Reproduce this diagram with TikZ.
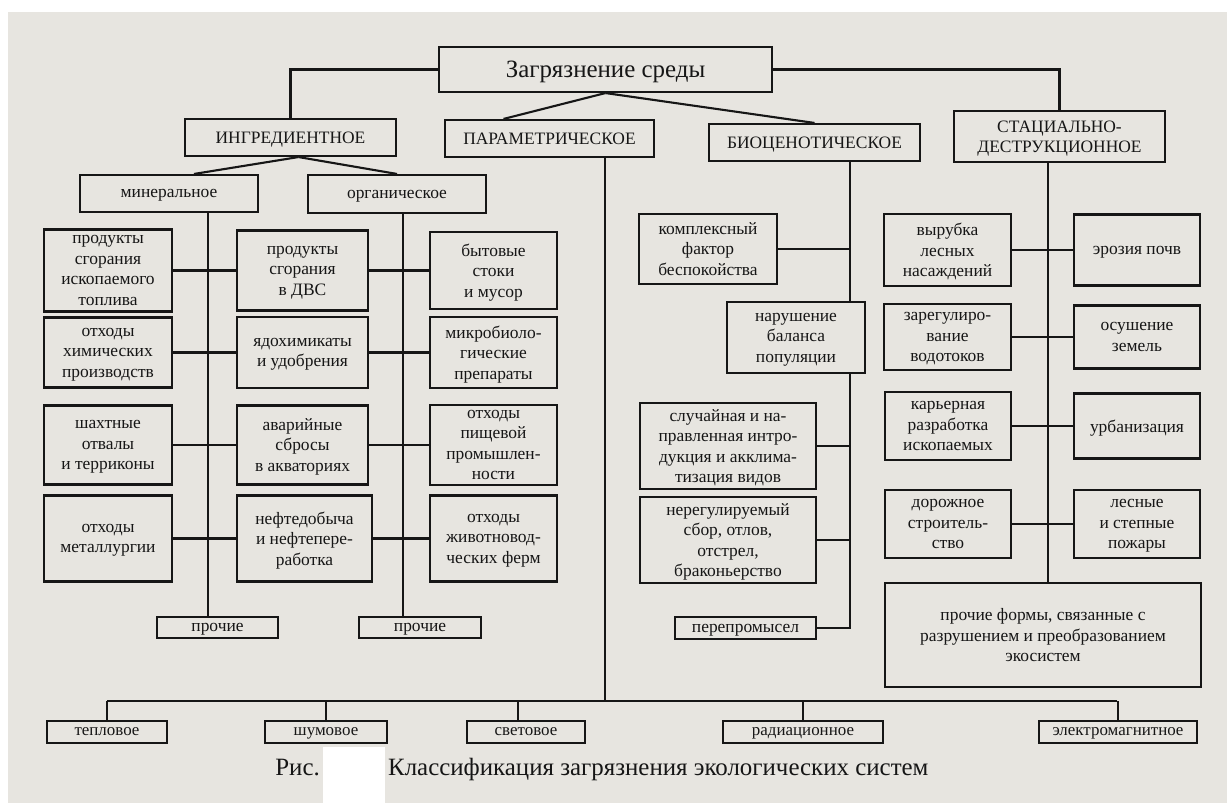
\documentclass[tikz,border=0pt]{standalone}
\usepackage{fontspec}
\setmainfont{Liberation Serif}
\definecolor{paper}{HTML}{E7E5E0}
\definecolor{ink}{HTML}{161616}
\tikzset{box/.style={draw=ink, line width=2.1bp, align=center, inner sep=0pt,
        text=ink, text depth=0pt, font=\fontsize{17.5}{20.5}\selectfont},
    wh/.style 2 args={minimum width=#1bp, minimum height=#2bp},
    link/.style={draw=ink, line width=2.1bp},
    low box/.style={box, font=\fontsize{17}{19}\selectfont},
    }

\begin{document}
\begin{tikzpicture}[x=1bp,y=-1bp]
	\fill[white] (0,0) rectangle (1227,803);
	\fill[paper] (8,12) rectangle (1227,803);
	\useasboundingbox (0,0) rectangle (1227,803);

	\node[box,wh={333}{45},font=\fontsize{25}{28}\selectfont] (pollution) at (605.5,69.5) {Загрязнение среды};
	\node[box,wh={211}{37}] (ingredient) at (290.5,137.5) {ИНГРЕДИЕНТНОЕ};
	\node[box,wh={209}{37}] (parametric) at (549.5,138.5) {ПАРАМЕТРИЧЕСКОЕ};
	\node[box,wh={211}{37}] (biocenotic) at (814.5,142.5) {БИОЦЕНОТИЧЕСКОЕ};
	\node[box,wh={211}{51}] (stational) at (1059.5,136.5) {СТАЦИАЛЬНО-\\ДЕСТРУКЦИОННОЕ};

	\node[box,wh={178}{37}] (mineral) at (169,193.5) {минеральное};
	\node[box,wh={178}{38}] (organic) at (397,194) {органическое};

	% ingredient: three columns
	\node[box,wh={128}{82}] (fossilFuel) at (108,270.5) {продукты\\сгорания\\ископаемого\\топлива};
	\node[box,wh={128}{70}] (chemWaste) at (108,352.5) {отходы\\химических\\производств};
	\node[box,wh={128}{79}] (mineDumps) at (108,445) {шахтные\\отвалы\\и терриконы};
	\node[box,wh={128}{86}] (metalWaste) at (108,538.5) {отходы\\металлургии};
	\node[box,wh={131}{80}] (engineFuel) at (302.5,270.5) {продукты\\сгорания\\в ДВС};
	\node[box,wh={131}{71}] (pesticides) at (302.5,352.5) {ядохимикаты\\и удобрения};
	\node[box,wh={131}{79}] (spills) at (302.5,445) {аварийные\\сбросы\\в акваториях};
	\node[box,wh={135}{86}] (oilIndustry) at (304.5,538.5) {нефтедобыча\\и нефтепере-\\работка};
	\node[box,wh={127}{77}] (sewage) at (493.5,270.5) {бытовые\\стоки\\и мусор};
	\node[box,wh={127}{71}] (microbio) at (493.5,352.5) {микробиоло-\\гические\\препараты};
	\node[box,wh={127}{80}] (foodWaste) at (493.5,445) {отходы\\пищевой\\промышлен-\\ности};
	\node[box,wh={127}{86}] (farmWaste) at (493.5,538.5) {отходы\\животновод-\\ческих ферм};
	\node[box,wh={121}{21}] (otherMin) at (217.5,627.5) {прочие};
	\node[box,wh={122}{21}] (otherOrg) at (420,627.5) {прочие};

	% biocenotic
	\node[box,wh={138}{70}] (disturbance) at (708,249) {комплексный\\фактор\\беспокойства};
	\node[box,wh={138}{71}] (balance) at (796,337.5) {нарушение\\баланса\\популяции};
	\node[box,wh={176}{86}] (introduction) at (728,446) {случайная и на-\\правленная интро-\\дукция и акклима-\\тизация видов};
	\node[box,wh={176}{86}] (poaching) at (728,540) {нерегулируемый\\сбор, отлов,\\отстрел,\\браконьерство};
	\node[box,wh={141}{22}] (overfishing) at (745.5,628) {перепромысел};

	% stational-destructive
	\node[box,wh={127}{72}] (logging) at (947.5,250) {вырубка\\лесных\\насаждений};
	\node[box,wh={126}{71}] (erosion) at (1137,250) {эрозия почв};
	\node[box,wh={127}{66}] (regulation) at (947.5,337) {зарегулиро-\\вание\\водотоков};
	\node[box,wh={126}{63}] (drainage) at (1137,337) {осушение\\земель};
	\node[box,wh={126}{68}] (quarry) at (948,426) {карьерная\\разработка\\ископаемых};
	\node[box,wh={126}{65}] (urban) at (1137,426) {урбанизация};
	\node[box,wh={126}{68}] (roads) at (948,524) {дорожное\\строитель-\\ство};
	\node[box,wh={126}{68}] (fires) at (1137,524) {лесные\\и степные\\пожары};
	\node[box,wh={316}{104}] (otherForms) at (1043,635) {прочие формы, связанные с\\разрушением и преобразованием\\экосистем};

	% parametric, along the bottom
	\node[low box,wh={120}{22}] (thermal) at (107,732) {тепловое};
	\node[low box,wh={122}{22}] (noise) at (326,732) {шумовое};
	\node[low box,wh={118}{22}] (light) at (526,732) {световое};
	\node[low box,wh={160}{22}] (radiation) at (803,732) {радиационное};
	\node[low box,wh={158}{22}] (emf) at (1118,732) {электромагнитное};

	\coordinate (minX) at (208,0);
	\coordinate (orgX) at (403,0);
	\coordinate (bioX) at (850,0);
	\coordinate (statX) at (1048,0);
	\coordinate (paramBus) at (605,701);
	\coordinate (busLeft) at (107,701);
	\coordinate (busRight) at (1117,701);

	\draw[link] (pollution.west) -| (ingredient.north);
	\draw[link] (pollution.east) -| (stational.north);
	\draw[link] (pollution.south) -- ([xshift=-46bp]parametric.north);
	\draw[link] (pollution.south) -- (biocenotic.north);
	\draw[link] ([xshift=8bp]ingredient.south) -- ([xshift=25bp]mineral.north);
	\draw[link] ([xshift=8bp]ingredient.south) -- (organic.north);

	\draw[link] (mineral.south -| minX) -- (otherMin.north -| minX);
	\draw[link] (organic.south -| orgX) -- (otherOrg.north -| orgX);
	\foreach \a/\b/\c in {fossilFuel/engineFuel/sewage, chemWaste/pesticides/microbio,
		mineDumps/spills/foodWaste, metalWaste/oilIndustry/farmWaste}
		\draw[link] (\a.east) -- (\b.west) (\b.east) -- (\c.west);

	\draw[link] (biocenotic.south -| bioX) -- (balance.north -| bioX);
	\draw[link] (balance.south -| bioX) |- (overfishing.east);
	\foreach \a in {disturbance, introduction, poaching}
		\draw[link] (\a.east) -- (\a.east -| bioX);

	\draw[link] (stational.south -| statX) -- (otherForms.north -| statX);
	\foreach \a/\b in {logging/erosion, regulation/drainage, quarry/urban, roads/fires}
		\draw[link] (\a.east) -- (\b.west);

	\draw[link] (parametric.south -| paramBus) -- (paramBus);
	\draw[link] (busLeft) -- (busRight);
	\foreach \a in {thermal, noise, radiation, emf}
		\draw[link] (\a.north) -- (\a.north |- busLeft);
	\draw[link] ([xshift=-8bp]light.north) -- ([xshift=-8bp]light.north |- busLeft);

	% caption, number covered by a paper patch
	\fill[white] (323,747) rectangle (385,803);
	\node[font=\fontsize{25}{28}\selectfont, text=ink, anchor=base east, inner sep=0pt] (figLabel) at (320,775) {Рис.};
	\node[font=\fontsize{25}{28}\selectfont, text=ink, anchor=base west, inner sep=0pt] (figCaption) at (388,775) {Классификация загрязнения экологических систем};
\end{tikzpicture}
\end{document}
